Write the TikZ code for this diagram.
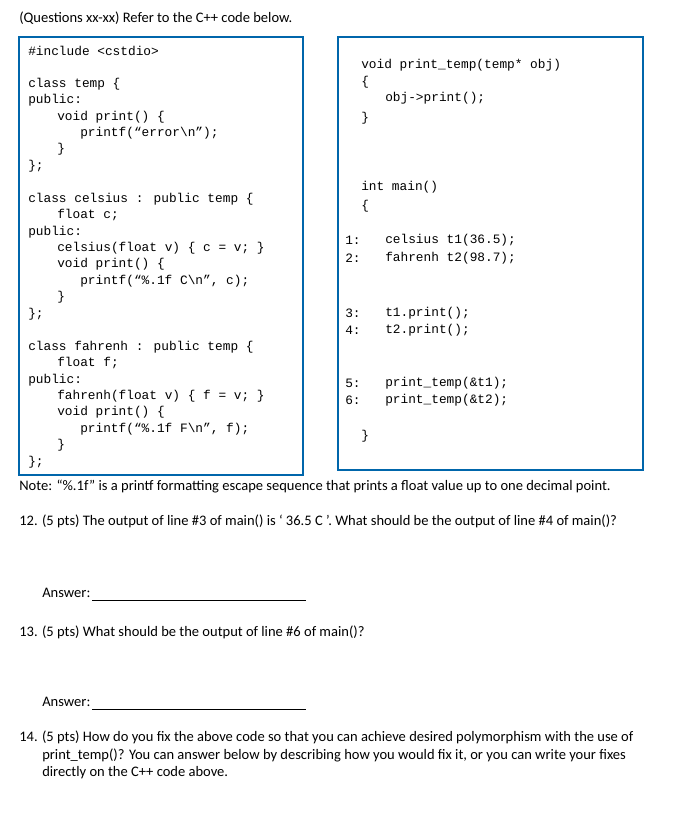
\documentclass[tikz,border=0pt]{standalone}
\usepackage{fontspec}
\setmainfont{Carlito}
\newfontfamily\codefont{Liberation Mono}
\begin{document}
\begin{tikzpicture}[x=0.75pt,y=-0.75pt,
  txt/.style={anchor=west,inner sep=0pt,font=\fontsize{10.9pt}{12pt}\selectfont},
  code/.style={anchor=west,inner sep=0pt,font=\codefont\fontsize{9.6pt}{11pt}\selectfont},
  frame/.style={draw=black!55!blue!60!cyan,line width=0.8pt}]
\useasboundingbox[fill=white] (0,0) rectangle (676,839);
\node[txt] (hdr) at (19,18) {(Questions xx-xx) Refer to the C++ code below.};
\draw[frame] (19,37) rectangle (303,475);
\draw[frame] (338,37) rectangle (643,470);
% left code
\foreach \x/\y/\t [count=\i] in {
 28/51/{\#include <cstdio>},
 28/84/{class temp \{},
 28/100/{public:},
 57/117/{void print() \{},
 80/133/{printf(“error\textbackslash n”);},
 57/149/{\}},
 28/166/{\};},
 28/199/{class celsius : public temp \{},
 57/215/{float c;},
 28/232/{public:},
 57/248/{celsius(float v) \{ c = v; \}},
 57/264/{void print() \{},
 80/281/{printf(“\%.1f C\textbackslash n”, c);},
 57/297/{\}},
 28/314/{\};},
 28/347/{class fahrenh : public temp \{},
 57/363/{float f;},
 28/380/{public:},
 57/396/{fahrenh(float v) \{ f = v; \}},
 57/412/{void print() \{},
 80/429/{printf(“\%.1f F\textbackslash n”, f);},
 57/445/{\}},
 28/462/{\};}}
 \node[code] (l\i) at (\x,\y) {\t};
% right code
\foreach \x/\y/\t [count=\i] in {
 361/65/{void print\_temp(temp* obj)},
 361/82/{\{},
 385/98/{obj->print();},
 361/118/{\}},
 361/187/{int main()},
 361/206/{\{},
 385/240/{celsius t1(36.5);},
 385/258/{fahrenh t2(98.7);},
 385/313/{t1.print();},
 385/330/{t2.print();},
 385/383/{print\_temp(\&t1);},
 385/400/{print\_temp(\&t2);},
 361/436/{\}}}
 \node[code] (r\i) at (\x,\y) {\t};
\foreach \y/\n in {240/1,258/2,313/3,330/4,383/5,400/6}
 \node[code] (n\n) at (345,\y) {\n:};
\node[txt] (note) at (19,487) {Note: “\%.1f” is a printf formatting escape sequence that prints a float value up to one decimal point.};
\node[txt] (q12) at (19,521) {12. (5 pts) The output of line \#3 of main() is ‘ 36.5 C ’. What should be the output of line \#4 of main()?};
\node[txt] (a1) at (42,593) {Answer:};
\coordinate (a1s) at (92,600); \coordinate (a1e) at (306,600);
\draw[line width=0.6pt] (a1s) -- (a1e);
\node[txt] (q13) at (19,632) {13. (5 pts) What should be the output of line \#6 of main()?};
\node[txt] (a2) at (42,702) {Answer:};
\coordinate (a2s) at (92,709); \coordinate (a2e) at (306,709);
\draw[line width=0.6pt] (a2s) -- (a2e);
\node[txt] (q14a) at (19,737) {14. (5 pts) How do you fix the above code so that you can achieve desired polymorphism with the use of};
\node[txt] (q14b) at (42,755) {print\_temp()? You can answer below by describing how you would fix it, or you can write your fixes};
\node[txt] (q14c) at (42,773) {directly on the C++ code above.};
\end{tikzpicture}
\end{document}
